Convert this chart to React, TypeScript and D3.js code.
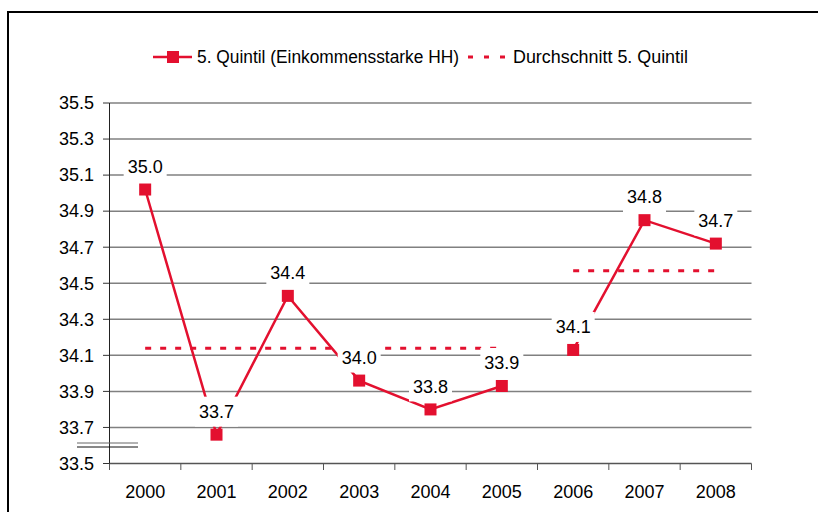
import React from "react";
import * as d3 from "d3";

const years = ["2000", "2001", "2002", "2003", "2004", "2005", "2006", "2007", "2008"];
const values = [35.02, 33.66, 34.43, 33.96, 33.8, 33.93, 34.13, 34.85, 34.72];
const valueLabels = ["35.0", "33.7", "34.4", "34.0", "33.8", "33.9", "34.1", "34.8", "34.7"];
const periodA = ["2000", "2001", "2002", "2003", "2004", "2005"];
const avgValuesA = [34.14, 34.14, 34.14, 34.14, 34.14, 34.14];
const periodB = ["2006", "2007", "2008"];
const avgValuesB = [34.57, 34.57, 34.57];
const yTicks = [33.5, 33.7, 33.9, 34.1, 34.3, 34.5, 34.7, 34.9, 35.1, 35.3, 35.5];
const seriesName = "5. Quintil (Einkommensstarke HH)";
const avgName = "Durchschnitt 5. Quintil";

const RED = "#E3102F";
const FONT = "'Liberation Sans', Arial, sans-serif";

export default function App() {
  const W = 818, H = 512;
  const left = 109.5, right = 751.5, top = 103, bottom = 463.5;
  const x = d3.scaleBand<string>().domain(years).range([left, right]);
  const cx = (yr: string) => (x(yr) as number) + x.bandwidth() / 2;
  const y = d3.scaleLinear().domain([33.5, 35.5]).range([bottom, top]);

  const line = d3
    .line<[string, number]>()
    .x((d) => cx(d[0]))
    .y((d) => y(d[1]));
  const mainPts: [string, number][] = years.map((yr, i) => [yr, values[i]]);
  const segA = mainPts.filter((d) => periodA.includes(d[0]));
  const segB = mainPts.filter((d) => periodB.includes(d[0]));
  const avgA: [string, number][] = periodA.map((yr, i) => [yr, avgValuesA[i]]);
  const avgB: [string, number][] = periodB.map((yr, i) => [yr, avgValuesB[i]]);

  const boundaries = d3.range(years.length + 1).map((i) => left + i * x.bandwidth());

  return (
    <svg width={W} height={H} style={{ position: "absolute", left: 0, top: 0, background: "#fff" }} fontFamily={FONT}>
      <rect x={0} y={0} width={W} height={H} fill="#fff" />
      <rect x={8} y={12} width={900} height={700} fill="none" stroke="#000" strokeWidth={2} />

      {/* legend */}
      <g>
        <line x1={153} x2={192} y1={57} y2={57} stroke={RED} strokeWidth={2.5} />
        <rect x={167} y={51} width={12} height={12} fill={RED} />
        <text x={197} y={63} fontSize={17.5} fill="#000" textLength={262} lengthAdjust="spacingAndGlyphs">{seriesName}</text>
        <line x1={468} x2={506} y1={57} y2={57} stroke={RED} strokeWidth={3} strokeDasharray="5,11" />
        <text x={513} y={63} fontSize={17.5} fill="#000" textLength={175} lengthAdjust="spacingAndGlyphs">{avgName}</text>
      </g>

      {/* gridlines */}
      {yTicks.map((t) => (
        <g key={t}>
          <line x1={left} x2={right} y1={y(t)} y2={y(t)} stroke={t === 33.5 ? "#555" : "#808080"} strokeWidth={1.5} />
          <line x1={103} x2={left} y1={y(t)} y2={y(t)} stroke="#333" strokeWidth={1} />
          <text x={94} y={y(t)} dy="0.35em" textAnchor="end" fontSize={18} fill="#000">{t.toFixed(1)}</text>
        </g>
      ))}
      {/* y axis */}
      <line x1={left} x2={left} y1={top} y2={470} stroke="#222" strokeWidth={1} />
      {/* axis break */}
      <line x1={77} x2={138} y1={443} y2={443} stroke="#666" strokeWidth={1} />
      <line x1={77} x2={138} y1={447} y2={447} stroke="#111" strokeWidth={1} />

      {/* x ticks */}
      {boundaries.map((b, i) => (
        <line key={i} x1={b} x2={b} y1={bottom} y2={470} stroke="#555" strokeWidth={1} />
      ))}
      {years.map((yr) => (
        <text key={yr} x={cx(yr)} y={498} textAnchor="middle" fontSize={18} fill="#000">{yr}</text>
      ))}

      {/* average dashed lines */}
      <path d={line(avgA) || ""} fill="none" stroke={RED} strokeWidth={3} strokeDasharray="6,9" />
      <path d={line(avgB) || ""} fill="none" stroke={RED} strokeWidth={3} strokeDasharray="6,9" />

      {/* main line, two periods */}
      <path d={line(segA) || ""} fill="none" stroke={RED} strokeWidth={2.5} />
      <path d={line(segB) || ""} fill="none" stroke={RED} strokeWidth={2.5} />

      {/* data labels */}
      {mainPts.map(([yr, v], i) => {
        const lx = cx(yr);
        const ly = y(v) - 23;
        return (
          <g key={"l" + yr}>
            <rect x={lx - 21.5} y={ly - 15} width={43} height={30} fill="#fff" />
            <text x={lx} y={ly} dy="0.35em" textAnchor="middle" fontSize={18} fill="#000">{valueLabels[i]}</text>
          </g>
        );
      })}

      {/* markers */}
      {mainPts.map(([yr, v]) => (
        <rect key={"m" + yr} x={cx(yr) - 6} y={y(v) - 6} width={12} height={12} fill={RED} />
      ))}
    </svg>
  );
}
